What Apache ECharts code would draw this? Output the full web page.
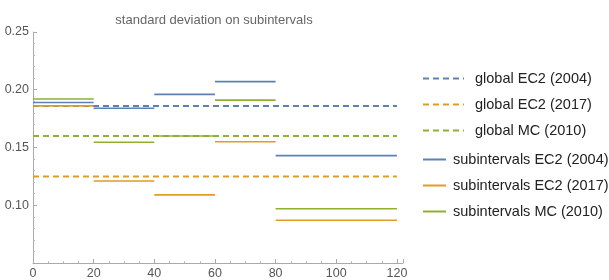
<!DOCTYPE html>
<html>
<head>
<meta charset="utf-8">
<script src="https://cdn.jsdelivr.net/npm/echarts@6/dist/echarts.min.js"></script>
<style>
  html, body { margin: 0; padding: 0; background: #fff; }
  #chart { width: 609px; height: 280px; }
</style>
</head>
<body>
<div id="chart"></div>
<script>
// interval edges (x) shared by all subinterval series
var edges = [0, 20, 40, 60, 80, 120]
var subEC2004 = [0.189, 0.184, 0.196, 0.207, 0.143]
var subEC2017 = [0.186, 0.121, 0.109, 0.155, 0.087]
var subMC2010 = [0.192, 0.1545, 0.160, 0.191, 0.097]

var globalEC2004 = 0.186
var globalEC2017 = 0.125
var globalMC2010 = 0.160

var xTicks = [0, 20, 40, 60, 80, 100, 120]
var yTicks = [0.10, 0.15, 0.20, 0.25]

var blue = '#5e81b5', orange = '#e19c24', green = '#8fb032'
var font = 'Liberation Sans'

// step segments, broken between intervals
function steps (vals) {
  var res = []
  for (var i = 0; i < vals.length; i++) {
    if (i > 0) res.push([edges[i], null])
    res.push([edges[i], vals[i]])
    res.push([edges[i + 1], vals[i]])
  }
  return res
}
function flat (v) {
  return [[edges[0], v], [edges[edges.length - 1], v]]
}

function lineSeries (name, data, color, dashed) {
  return {
    name: name,
    type: 'line',
    data: data,
    symbol: 'none',
    connectNulls: false,
    silent: true,
    z: dashed ? 2 : 3,
    lineStyle: { color: color, width: dashed ? 2 : 1.6, type: dashed ? [6, 4] : 'solid' },
    itemStyle: { color: color }
  }
}

var series = [
  lineSeries('global EC2 (2004)', flat(globalEC2004), blue, true),
  lineSeries('global EC2 (2017)', flat(globalEC2017), orange, true),
  lineSeries('global MC (2010)', flat(globalMC2010), green, true),
  lineSeries('subintervals EC2 (2004)', steps(subEC2004), blue, false),
  lineSeries('subintervals EC2 (2017)', steps(subEC2017), orange, false),
  lineSeries('subintervals MC (2010)', steps(subMC2010), green, false)
]

var option = {
  animation: false,
  title: {
    text: 'standard deviation on subintervals',
    left: 209, top: 9, textAlign: 'center',
    textStyle: { color: '#666', fontSize: 13, fontWeight: 'normal', fontFamily: font }
  },
  legend: [{
    data: series.slice(0, 3).map(function (s) { return s.name }),
    orient: 'vertical', left: 422, top: 71, padding: 0,
    itemWidth: 41, itemHeight: 14, itemGap: 11,
    itemStyle: { opacity: 0 },
    textStyle: { color: '#222', fontSize: 14.5, fontFamily: font, padding: [0, 0, 0, 6] }
  }, {
    data: series.slice(3).map(function (s) { return s.name }),
    orient: 'vertical', left: 422, top: 152, padding: 0,
    itemWidth: 23, itemHeight: 14, itemGap: 11,
    itemStyle: { opacity: 0 },
    textStyle: { color: '#222', fontSize: 14.5, fontFamily: font, padding: [0, 0, 0, 2] }
  }],
  grid: { left: 33, right: 206, top: 32, bottom: 17 },
  xAxis: {
    type: 'value', min: 0, max: 122, interval: 20,
    axisLine: { lineStyle: { color: '#aaa' } },
    axisTick: { inside: true, length: 4, lineStyle: { color: '#aaa' } },
    minorTick: { show: true, splitNumber: 4, length: 2, lineStyle: { color: '#bbb' } },
    axisLabel: {
      color: '#555', fontSize: 12.5, margin: 4, fontFamily: font,
      formatter: function (v) { return xTicks.indexOf(v) >= 0 ? String(v) : '' }
    },
    splitLine: { show: false }
  },
  yAxis: {
    type: 'value', min: 0.05, max: 0.25, interval: 0.05,
    axisLine: { show: true, lineStyle: { color: '#aaa' } },
    axisTick: { show: true, inside: true, length: 4, lineStyle: { color: '#aaa' } },
    minorTick: { show: true, splitNumber: 5, length: 2, lineStyle: { color: '#bbb' } },
    axisLabel: {
      color: '#555', fontSize: 12.5, margin: 4, fontFamily: font,
      formatter: function (v) {
        var t = Math.round(v * 100) / 100
        return yTicks.indexOf(t) >= 0 ? t.toFixed(2) : ''
      }
    },
    splitLine: { show: false }
  },
  series: series
}

echarts.init(document.getElementById('chart')).setOption(option)
</script>
</body>
</html>
